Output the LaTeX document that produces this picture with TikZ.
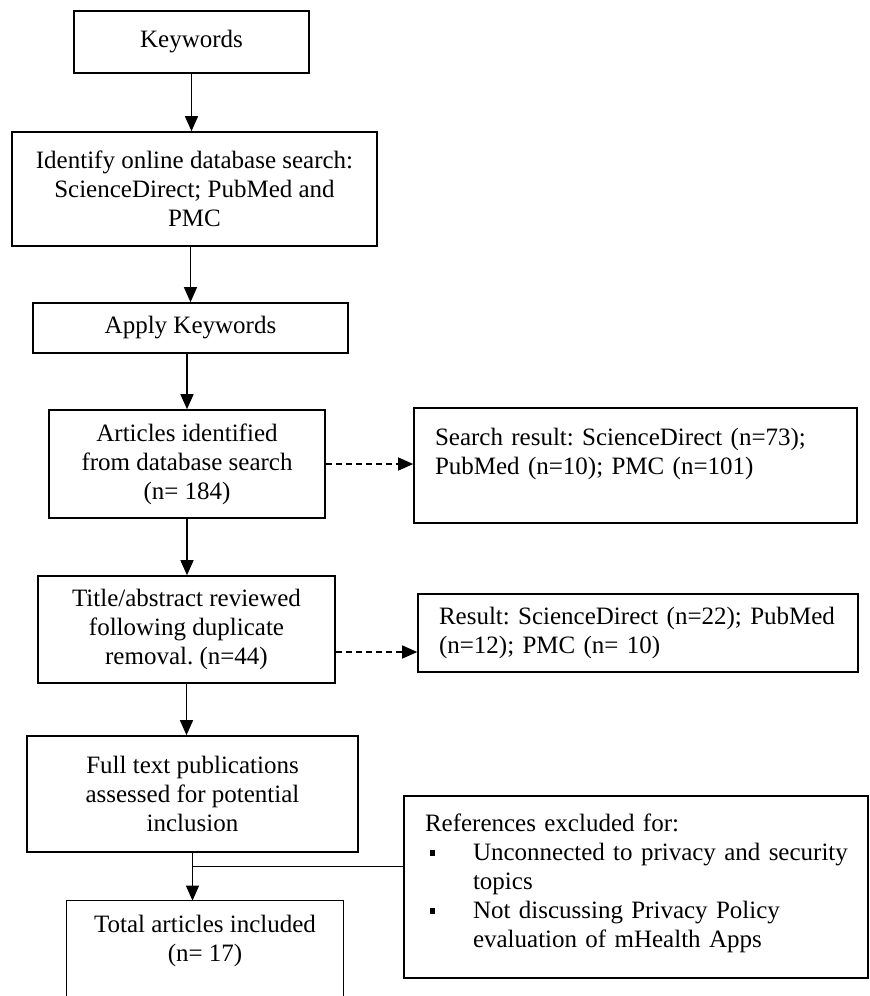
\documentclass[tikz,border=0pt]{standalone}
\usepackage{fontspec}
\setmainfont{Liberation Serif}
\usetikzlibrary{arrows.meta,calc}
\frenchspacing
\begin{document}
\begin{tikzpicture}[x=0.5pt,y=-0.5pt,
  every node/.style={font=\fontsize{12.5pt}{14.5pt}\selectfont},
  box/.style={draw, line width=0.8pt, rectangle, inner sep=0pt, align=center},
  lbox/.style={draw, line width=0.8pt, rectangle, inner ysep=0pt, inner xsep=10.5pt, align=left},
  conn/.style={line width=0.65pt},
  arr/.style={line width=0.65pt, -{Triangle[width=6.5pt,length=7.5pt]}},
  darr/.style={line width=0.65pt, dash pattern=on 3pt off 2pt, -{Triangle[width=6.5pt,length=7.5pt]}}
  ]
\useasboundingbox (0,0) rectangle (869,996);

\node[box, minimum width=117.5pt, minimum height=31pt] (K) at (191.5,42) {Keywords};
\node[box, minimum width=182.5pt, minimum height=57pt] (S) at (194.5,189)
  {Identify online database search:\\ScienceDirect; PubMed and\\PMC};
\node[box, minimum width=157.5pt, minimum height=25pt] (A) at (190.5,328) {Apply Keywords};
\node[box, minimum width=138pt, minimum height=54pt] (D) at (187,464)
  {Articles identified\\from database search\\(n= 184)};
\node[lbox, text width=200.5pt, minimum height=57.5pt] (R1) at (635.5,465.5)
  {\mbox{Search result: ScienceDirect (n=73);}\\\mbox{PubMed (n=10); PMC (n=101)}\\\mbox{}};
\node[box, minimum width=148.5pt, minimum height=53.5pt] (T) at (186.5,629.5)
  {Title/abstract reviewed\\following duplicate\\removal. (n=44)};
\node[lbox, text width=199pt, minimum height=39pt] (R2) at (638,633)
  {\mbox{Result: ScienceDirect (n=22); PubMed}\\\mbox{(n=12); PMC (n= 10)}};
\node[box, minimum width=165.5pt, minimum height=58pt] (F) at (192.5,794)
  {Full text publications\\assessed for potential\\inclusion};
\node[lbox, text width=211pt, minimum height=91pt] (X) at (636,887)
  {\mbox{References excluded for:}\\
   \hspace*{2.5pt}\makebox[21.5pt][l]{\rule[2.4pt]{2.6pt}{2.8pt}}\mbox{Unconnected to privacy and security}\\
   \hspace*{24pt}topics\\
   \hspace*{2.5pt}\makebox[21.5pt][l]{\rule[2.4pt]{2.6pt}{2.8pt}}\mbox{Not discussing Privacy Policy}\\
   \hspace*{24pt}\mbox{evaluation of mHealth Apps}\\[-8.5pt]\mbox{}};
\node[inner sep=0pt, minimum width=138pt, minimum height=40pt, align=center] (N) at (205,941)
  {Total articles included\\(n= 17)};
\draw[line width=0.8pt] ([yshift=-7.6pt]N.south west) -- (N.north west) -- (N.north east) -- ([yshift=-7.6pt]N.south east);

% connectors
\draw[arr] (K.south) -- (K.south |- S.north);
\draw[arr] (A.north |- S.south) -- (A.north);
\draw[arr] (D.north |- A.south) -- (D.north);
\draw[arr] (D.south) -- (D.south |- T.north);
\draw[arr] (T.south) -- (T.south |- F.north);
\draw[arr] (F.south) -- (F.south |- N.north);
\coordinate (J) at ([yshift=-7pt]F.south);
\draw[conn] (J) -- (J -| X.west);
\draw[darr] (D.east) -- (D.east -| R1.west);
\draw[darr] ([yshift=-11.25pt]T.east) -- ([yshift=-11.25pt]T.east -| R2.west);
\end{tikzpicture}
\end{document}
